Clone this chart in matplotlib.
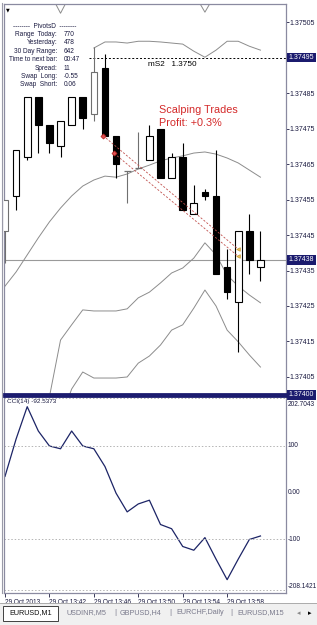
import numpy as np
import matplotlib.pyplot as plt
from matplotlib.patches import Rectangle
from matplotlib.lines import Line2D

plt.rcParams['font.family'] = ['Liberation Sans', 'DejaVu Sans']

W, H = 317, 625

# EURUSD M1, 29 Oct 2013 13:38 .. 14:01
times = ['13:38', '13:39', '13:40', '13:41', '13:42', '13:43', '13:44', '13:45',
         '13:46', '13:47', '13:48', '13:49', '13:50', '13:51', '13:52', '13:53',
         '13:54', '13:55', '13:56', '13:57', '13:58', '13:59', '14:00', '14:01']
opens = [1.37446, 1.37456, 1.37467, 1.37484, 1.37476, 1.37470, 1.37476, 1.37484,
         1.37479, 1.37492, 1.37473, 1.37463, 1.37464, 1.37466, 1.37475, 1.37461,
         1.37467, 1.37451, 1.37457, 1.37456, 1.37436, 1.37426, 1.37446, 1.37436]
highs = [1.37455, 1.37469, 1.37484, 1.37484, 1.37476, 1.37477, 1.37484, 1.37484,
         1.37498, 1.37496, 1.37473, 1.37463, 1.37474, 1.37476, 1.37475, 1.37468,
         1.37471, 1.37459, 1.37458, 1.37469, 1.37441, 1.37446, 1.37451, 1.37446]
lows = [1.37437, 1.37452, 1.37466, 1.37468, 1.37468, 1.37467, 1.37476, 1.37475,
        1.37477, 1.37473, 1.37461, 1.37454, 1.37464, 1.37466, 1.37461, 1.37461,
        1.37452, 1.37451, 1.37455, 1.37434, 1.37427, 1.37412, 1.37434, 1.37432]
closes = [1.37455, 1.37469, 1.37484, 1.37476, 1.37471, 1.37477, 1.37484, 1.37478,
          1.37491, 1.37473, 1.37465, 1.37463, 1.37464, 1.37473, 1.37461, 1.37467,
          1.37452, 1.37454, 1.37456, 1.37434, 1.37429, 1.37446, 1.37438, 1.37438]

nan = np.nan
# two band envelopes around one middle line
band_mid = [1.374306, 1.374346, 1.374394, 1.374442, 1.374487, 1.374526, 1.374560, 1.374588,
            1.374605, 1.374616, 1.374613, 1.374622, 1.374636, 1.374647, 1.374659, 1.374667,
            1.374673, 1.374681, 1.374684, 1.374678, 1.374667, 1.374653, 1.374633, 1.374613]
band_up1 = [nan, nan, nan, nan, nan, nan, nan, nan,
            1.374977, 1.374994, 1.374994, 1.374991, 1.374996, 1.374996, 1.374994, 1.374991,
            1.374988, 1.374968, 1.374951, 1.374971, 1.374996, 1.374996, 1.374982, 1.374971]
band_up2 = [1.375225, 1.375225, 1.375225, 1.375225, 1.375135, 1.375075, 1.375135, 1.375168,
            1.375168, 1.375168, 1.375168, 1.375168, 1.375168, 1.375168, 1.375168, 1.375168,
            1.375168, 1.375132, 1.375078, 1.375132, 1.375168, 1.375168, 1.375168, 1.375168]
band_lo1 = [nan, nan, nan, 1.373873, 1.373994, 1.374154, 1.374197, 1.374239,
            1.374236, 1.374236, 1.374236, 1.374242, 1.374273, 1.374289, 1.374315, 1.374343,
            1.374357, 1.374385, 1.374428, 1.374394, 1.374337, 1.374306, 1.374281, 1.374259]
band_lo2 = [nan, nan, nan, nan, nan, 1.373929, 1.374016, 1.374064,
            1.374047, 1.374047, 1.374047, 1.374050, 1.374089, 1.374109, 1.374140, 1.374182,
            1.374197, 1.374244, 1.374295, 1.374250, 1.374182, 1.374149, 1.374112, 1.374078]

cci = [35, 115, 184, 132, 100, 94, 132, 100, 94, 56, -1, -41,
       -24, -16, -68, -77, -115, -123, -96, -142, -186, -142, -100, -92.5373]

bid = 1.37438
pivot_ms2 = 1.37495
price_ticks = [1.37405, 1.37415, 1.37425, 1.37435, 1.37445, 1.37455,
               1.37465, 1.37475, 1.37485, 1.37505]

# sell trades: open bar, open price, close bar, close price
trade_open_bar = [9, 10]
trade_open_px = [1.37473, 1.37468]
trade_close_bar = [21, 21]
trade_close_px = [1.37441, 1.37439]

time_tick_bars = [0, 4, 8, 12, 16, 20]
time_tick_labels = ['29 Oct 2013', '29 Oct 13:42', '29 Oct 13:46',
                    '29 Oct 13:50', '29 Oct 13:54', '29 Oct 13:58']

cci_levels = [202.7043, 100, 0, -100, -208.1421]
cci_level_labels = ['202.7043', '100', '0.00', '-100', '-208.1421']

info_labels = ['Range  Today:', 'Yesterday:', '30 Day Range:', 'Time to next bar:',
               'Spread:', 'Swap  Long:', 'Swap  Short:']
info_values = ['770', '478', '642', '00:47', '11', '-0.55', '0.06']

tabs = ['USDINR,M5', 'GBPUSD,H4', 'EURCHF,Daily', 'EURUSD,M15']


def fx(x):
    return x / W


def fy(y):
    return 1 - y / H


navy = '#1b1b6e'
txt = '#1a1a40'

fig = plt.figure(figsize=(W / 100, H / 100), dpi=100)
fig.patch.set_facecolor('white')

ax = fig.add_axes([fx(4), fy(394), fx(282), 390 / H])
cax = fig.add_axes([fx(4), fy(593), fx(282), 197 / H])

x = np.arange(len(times))
xlim = (-0.09, 25.3)

# ---- candles
muted = {0, 8, 11, 12}
bw = 0.6
for i in range(len(x)):
    o, h, l, c = opens[i], highs[i], lows[i], closes[i]
    ec = '#707070' if i in muted else 'black'
    lo_b, hi_b = min(o, c), max(o, c)
    ax.vlines(x[i], l, lo_b, color=ec, lw=0.8, zorder=3)
    ax.vlines(x[i], hi_b, h, color=ec, lw=0.8, zorder=3)
    if hi_b - lo_b < 1e-7:
        ax.hlines(o, x[i] - bw / 2, x[i] + bw / 2, color=ec, lw=0.9, zorder=4)
    else:
        fc = 'white' if c > o else 'black'
        ax.add_patch(Rectangle((x[i] - bw / 2, lo_b), bw, hi_b - lo_b,
                               fc=fc, ec=ec, lw=0.8, zorder=4))

band_kw = dict(color='#8c8c8c', lw=0.7, zorder=2)
for band in (band_mid, band_up1, band_up2, band_lo1, band_lo2):
    ax.plot(x, band, **band_kw)

ax.axhline(bid, color='#9a9a9a', lw=0.8, zorder=1)
ax.plot([7.6, xlim[1]], [pivot_ms2, pivot_ms2], color='black', lw=0.7,
        ls=(0, (2, 2)), zorder=2)
ax.text(12.9, pivot_ms2 - 0.000009, 'mS2   1.3750', fontsize=5.9, color='black',
        va='top', ha='left')

# trades
for ob, op, cb, cp in zip(trade_open_bar, trade_open_px, trade_close_bar, trade_close_px):
    ax.plot([ob - 0.17, cb], [op, cp], color='#c0504d', lw=0.6, ls=(0, (2.5, 2)), zorder=5)
    ax.plot(ob - 0.17, op, marker='D', ms=2.6, mfc='#e05050', mec='#b02020', mew=0.5, zorder=6)
    ax.plot(cb, cp, marker='<', ms=2.6, mfc='#e8c060', mec='#c89830', mew=0.5, zorder=6)

ax.text(13.85, 1.374795, 'Scalping Trades', fontsize=7.8, color='#d42a2a', va='baseline')
ax.text(13.85, 1.374758, 'Profit: +0.3%', fontsize=7.8, color='#d42a2a', va='baseline')

ax.set_xlim(*xlim)
ax.set_ylim(1.374002, 1.375101)
ax.yaxis.tick_right()
ax.set_yticks(price_ticks)
ax.set_yticklabels(['%.5f' % p for p in price_ticks])
ax.tick_params(axis='y', length=2, width=0.6, pad=0.8, labelsize=5, colors=txt)
ax.tick_params(axis='x', bottom=False, labelbottom=False)
for s in ('left', 'top', 'right'):
    ax.spines[s].set_color('#8a8aa0')
    ax.spines[s].set_linewidth(0.9)
ax.spines['bottom'].set_color(navy)
ax.spines['bottom'].set_linewidth(2)

hl = dict(boxstyle='square,pad=0.2', fc=navy, ec='none')
for p in (pivot_ms2, bid, 1.37400):
    ax.text(1.01, p, '%.5f' % p, transform=ax.get_yaxis_transform(), fontsize=5,
            color='white', va='center', ha='left', bbox=hl, clip_on=False, zorder=10)

# ---- CCI panel
cax.plot(x, cci, color='#1c2466', lw=0.9)
for lv in (202.7043, 100, -100, -208.1421):
    cax.axhline(lv, color='#b4b4b4', lw=0.7, ls=(0, (1.5, 2)))
cax.set_xlim(*xlim)
cax.set_ylim(-214.5, 206.9)
cax.set_yticks([])
for lv, lab in zip(cci_levels, cci_level_labels):
    dy = 0
    if lv > 200:
        dy = -4.5
    elif lv < -200:
        dy = 2.5
    cax.annotate(lab, xy=(1.005, lv), xycoords=cax.get_yaxis_transform(),
                 xytext=(0, dy), textcoords='offset points', fontsize=4.7,
                 color=txt, va='center', ha='left', annotation_clip=False)
cax.set_xticks(time_tick_bars)
cax.set_xticklabels(time_tick_labels, ha='left')
cax.tick_params(axis='x', length=3, width=0.6, pad=1.5, labelsize=4.7, colors=txt)
for s in ('left', 'bottom', 'right'):
    cax.spines[s].set_color('#8a8aa0')
    cax.spines[s].set_linewidth(0.9)
cax.spines['top'].set_color(navy)
cax.spines['top'].set_linewidth(2)
cax.text(0.012, 0.985, 'CCI(14) -92.5373', transform=cax.transAxes, fontsize=4.6,
         color=txt, va='top', ha='left')

# ---- info block
fig.text(fx(45), fy(26), '--------  PivotsD  --------', fontsize=4.7, color=txt,
         ha='center', va='center')
for k, (lab, val) in enumerate(zip(info_labels, info_values)):
    yy = 34.5 + k * 8.4
    fig.text(fx(57), fy(yy), lab, fontsize=4.7, color=txt, ha='right', va='center')
    fig.text(fx(64), fy(yy), val, fontsize=4.7, color=txt, ha='left', va='center')
fig.text(fx(8), fy(10), '\u25bc', fontsize=3.5, color='black', ha='center', va='center',
         family='DejaVu Sans')

# left double border
fig.add_artist(Line2D([fx(1.5), fx(1.5)], [fy(593), fy(3)], color='#9a9aa8', lw=0.8))

# ---- tab bar
fig.add_artist(Rectangle((0, 0), 1, 22 / H, transform=fig.transFigure,
                         fc='#f0f0f0', ec='none'))
fig.add_artist(Line2D([0, 1], [fy(603), fy(603)], color='#a0a0a0', lw=0.6))
fig.add_artist(Rectangle((fx(3), fy(621)), fx(55), 15 / H, transform=fig.transFigure,
                         fc='white', ec='#404040', lw=0.7))
fig.text(fx(30.5), fy(613), 'EURUSD,M1', fontsize=5.2, color='#101010', ha='center', va='center')
tab_x = [86, 141, 200, 261]
for t, tx in zip(tabs, tab_x):
    fig.text(fx(tx), fy(613), t, fontsize=5.2, color='#7a7a8c', ha='center', va='center')
for sx in (115, 170, 231):
    fig.text(fx(sx), fy(613), '|', fontsize=6, color='#7a7a8c', ha='center', va='center')
fig.text(fx(299), fy(613), '\u25c2', fontsize=5, color='#8a8a8a', ha='center', va='center',
         family='DejaVu Sans')
fig.text(fx(310), fy(613), '\u25b8', fontsize=5, color='black', ha='center', va='center',
         family='DejaVu Sans')

fig.savefig('out.png', dpi=100, facecolor='white')
